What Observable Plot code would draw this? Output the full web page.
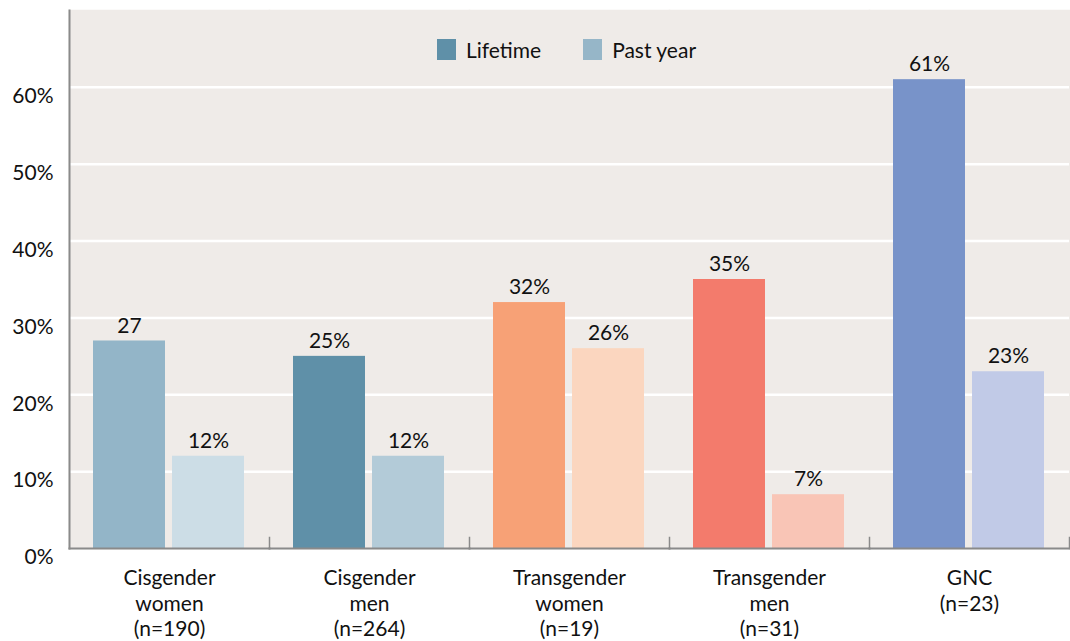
<!DOCTYPE html>
<html>
<head>
<meta charset="utf-8">
<script src="https://cdn.jsdelivr.net/npm/d3@7"></script>
<script src="https://cdn.jsdelivr.net/npm/@observablehq/plot@0.6"></script>
<style>
  html, body { margin: 0; padding: 0; background: #fff; }
  #wrap { position: relative; width: 1070px; height: 641px; font-family: Lato, "Noto Sans", sans-serif; }
  #legend { position: absolute; top: 37px; left: 437px; display: flex; align-items: center; font-size: 21px; color: #111; }
  #legend .sw { width: 19px; height: 21px; display: inline-block; margin-right: 10px; }
  #legend .item { display: flex; align-items: center; margin-right: 42px; }
</style>
</head>
<body>
<div id="wrap">
  <div id="chart"></div>
  <div id="legend"></div>
</div>
<script>
const groups = ["Cisgender women", "Cisgender men", "Transgender women", "Transgender men", "GNC"];
const groupLabels = ["Cisgender\nwomen\n(n=190)", "Cisgender\nmen\n(n=264)", "Transgender\nwomen\n(n=19)", "Transgender\nmen\n(n=31)", "GNC\n(n=23)"];
const series = ["Lifetime", "Past year"];
const lifetime = [27, 25, 32, 35, 61];
const pastYear = [12, 12, 26, 7, 23];
const lifetimeLabels = ["27", "25%", "32%", "35%", "61%"];
const pastYearLabels = ["12%", "12%", "26%", "7%", "23%"];
const lifetimeColors = ["#93b5c8", "#5f90a8", "#f7a176", "#f37b6c", "#7893c9"];
const pastYearColors = ["#ccdde6", "#b3cbd8", "#fbd6bf", "#f9c5b6", "#c1cae7"];
const legendColors = ["#5f90a8", "#96b6c8"];
const yTicks = [0, 10, 20, 30, 40, 50, 60];

const data = [];
groups.forEach((g, i) => {
  data.push({group: g, series: "Lifetime", value: lifetime[i], label: lifetimeLabels[i], color: lifetimeColors[i]});
  data.push({group: g, series: "Past year", value: pastYear[i], label: pastYearLabels[i], color: pastYearColors[i]});
});

const bg = "#efebe8";
const plot = Plot.plot({
  width: 1070,
  height: 641,
  marginLeft: 67,
  marginRight: 0,
  marginTop: 10,
  marginBottom: 93,
  style: {fontFamily: "Lato, 'Noto Sans', sans-serif", fontSize: "21px", color: "#111", background: "transparent"},
  fx: {domain: groups, padding: 0, label: null, axis: null},
  x: {domain: series, paddingInner: 0.0875, paddingOuter: 0.3, axis: null},
  y: {domain: [0, 70], axis: null},
  marks: [
    Plot.frame({fill: bg, stroke: bg, strokeWidth: 1.5}),
    Plot.ruleY(yTicks.filter(d => d > 0), {stroke: "#fff", strokeWidth: 2.5}),
    Plot.barY(data, {fx: "group", x: "series", y: "value", fill: "color"}),
    Plot.text(data, {fx: "group", x: "series", y: "value", text: "label", dy: -15, fontSize: 21, fill: "#111"}),
    Plot.frame({anchor: "bottom", stroke: "#8a8a8a", strokeWidth: 2}),
    Plot.frame({anchor: "right", stroke: "#8a8a8a", strokeWidth: 1.5, insetTop: 527}),
    Plot.frame({anchor: "left", stroke: "#8a8a8a", strokeWidth: 2, facetAnchor: "left"}),
    Plot.axisY(yTicks, {label: null, tickSize: 0, tickPadding: 16, dy: 9, tickFormat: d => d + "%", fontSize: 21, fill: "#111"}),
    Plot.axisFx({anchor: "bottom", tickSize: 0, tickPadding: 19, label: null, tickFormat: d => groupLabels[groups.indexOf(d)], fontSize: 21, lineHeight: 1.2, lineAnchor: "top", fill: "#111"})
  ]
});
document.getElementById("chart").appendChild(plot);

const legend = document.getElementById("legend");
series.forEach((s, i) => {
  const item = document.createElement("div");
  item.className = "item";
  const sw = document.createElement("span");
  sw.className = "sw";
  sw.style.background = legendColors[i];
  item.appendChild(sw);
  item.appendChild(document.createTextNode(s));
  legend.appendChild(item);
});
</script>
</body>
</html>
